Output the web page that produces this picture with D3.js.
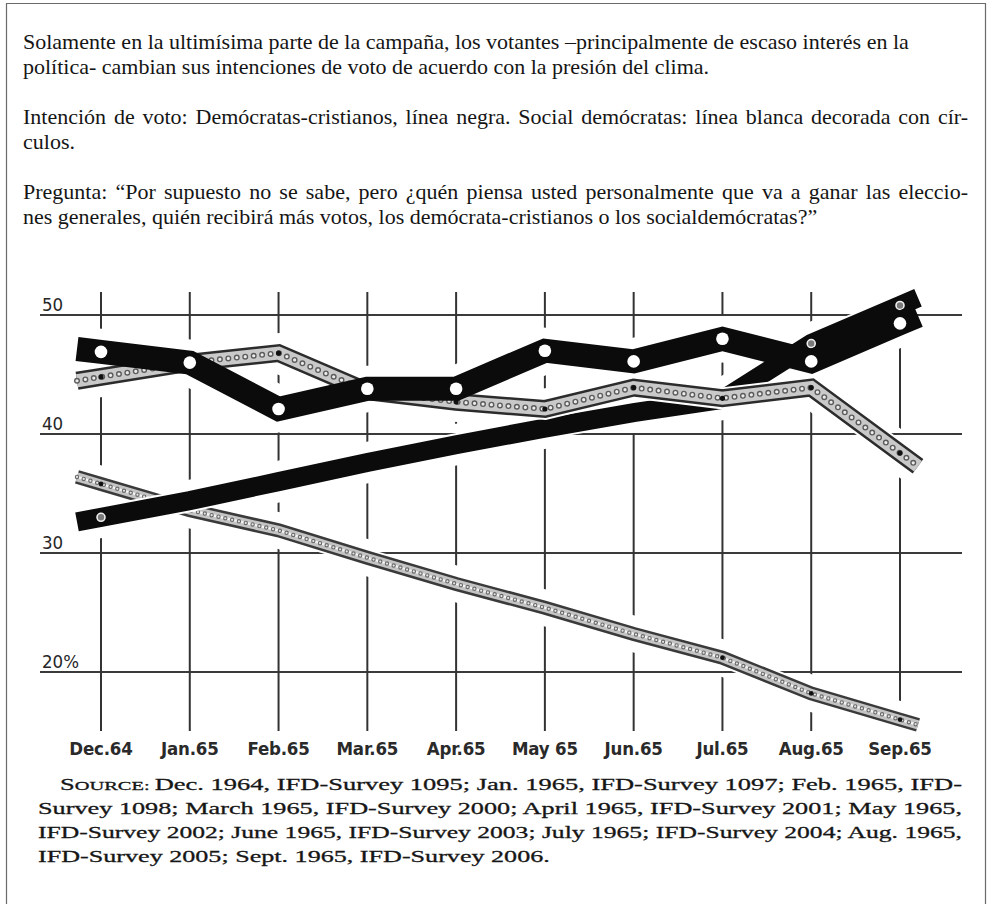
<!DOCTYPE html>
<html><head><meta charset="utf-8">
<script src="https://cdn.jsdelivr.net/npm/d3@7/dist/d3.min.js"></script>
<style>body{margin:0;background:#fff}svg{display:block}</style>
</head><body>
<svg id="c" width="995" height="904"></svg>
<script>
// ---------- data ----------
const months = ["Dec.64","Jan.65","Feb.65","Mar.65","Apr.65","May 65","Jun.65","Jul.65","Aug.65","Sep.65"];
const cduIntention = [46.9,46.0,42.1,43.8,43.8,47.0,46.1,48.0,46.1,49.3];
const spdIntention = [44.8,46.0,46.8,43.6,42.7,42.1,43.9,43.0,43.9,38.4];
const cduExpected  = [33.0,34.4,36.0,37.6,39.1,40.5,41.8,42.9,47.6,50.8];
const spdExpected  = [35.8,33.6,31.9,29.6,27.4,25.4,23.2,21.2,18.2,16.0];
const yTicks = [50,40,30,20];
const yTickLabels = ["50","40","30","20%"];
const introParagraphs = [
  ["Solamente en la ultimísima parte de la campaña, los votantes –principalmente de escaso interés en la",
   "política- cambian sus intenciones de voto de acuerdo con la presión del clima."],
  ["Intención de voto: Demócratas-cristianos, línea negra. Social demócratas: línea blanca decorada con cír-",
   "culos."],
  ["Pregunta: “Por supuesto no se sabe, pero ¿quén piensa usted personalmente que va a ganar las eleccio-",
   "nes generales, quién recibirá más votos, los demócrata-cristianos o los socialdemócratas?”"]
];
const justifiedIntro = [[false,false],[true,false],[true,false]];
const sourceLines = [
  "Dec. 1964, IFD-Survey 1095; Jan. 1965, IFD-Survey 1097; Feb. 1965, IFD-",
  "Survey 1098; March 1965, IFD-Survey 2000; April 1965, IFD-Survey 2001; May 1965,",
  "IFD-Survey 2002; June 1965, IFD-Survey 2003; July 1965; IFD-Survey 2004; Aug. 1965,",
  "IFD-Survey 2005; Sept. 1965, IFD-Survey 2006."
];

// ---------- setup ----------
const svg = d3.select("#c");
const W = 995, H = 904;

// frame (no bottom edge)
svg.append("path").attr("d", `M6.5,${H} V3.5 H985.5 V${H}`)
  .attr("fill","none").attr("stroke","#6a6a6a").attr("stroke-width",1.2);

// intro text
const introX = 23, introRight = 968;
let by = 49;
introParagraphs.forEach((para, pi) => {
  para.forEach((line, li) => {
    const t = svg.append("text").attr("x", introX).attr("y", by)
      .attr("font-family", "'Liberation Serif','Times New Roman',serif")
      .attr("font-size", 22).attr("fill", "#151515").text(line);
    if (justifiedIntro[pi][li]) {
      const L = t.node().getComputedTextLength();
      const n = (line.match(/ /g) || []).length;
      const extra = ((introRight - introX) - L) / n;
      if (extra > 0) t.attr("word-spacing", extra);
      else t.attr("textLength", introRight - introX).attr("lengthAdjust", "spacingAndGlyphs");
    }
    by += 25;
  });
  by += 25;
});

// ---------- chart ----------
const x = d3.scalePoint().domain(months).range([101, 900]);
const y = d3.scaleLinear().domain([20, 50]).range([672, 315]);

const defs = svg.append("defs");

function points(vals) {
  const p = vals.map((v, i) => [x(months[i]), y(v)]);
  const n = p.length;
  const s0 = (p[1][1] - p[0][1]) / (p[1][0] - p[0][0]);
  const s1 = (p[n-1][1] - p[n-2][1]) / (p[n-1][0] - p[n-2][0]);
  const extL = 24, extR = 18;
  return [[p[0][0] - extL, p[0][1] - extL * s0], ...p, [p[n-1][0] + extR, p[n-1][1] + extR * s1]];
}
const line = d3.line();

const series = [
  {id:"spdE", vals: spdExpected, w: 14},
  {id:"cduE", vals: cduExpected, w: 19},
  {id:"spdI", vals: spdIntention, w: 18},
  {id:"cduI", vals: cduIntention, w: 24}
];
series.forEach(s => s.d = line(points(s.vals)));

// mask for vertical grid lines (broken where the curves pass)
const mask = defs.append("mask").attr("id","vmask").attr("maskUnits","userSpaceOnUse")
  .attr("x",0).attr("y",0).attr("width",W).attr("height",H);
mask.append("rect").attr("width",W).attr("height",H).attr("fill","white");
series.forEach(s => mask.append("path").attr("d", s.d).attr("fill","none")
  .attr("stroke","black").attr("stroke-width", s.w + 22));

// horizontal grid
const grid = svg.append("g");
grid.selectAll("line.h").data(yTicks).join("line")
  .attr("x1", 40).attr("x2", 962)
  .attr("y1", d => y(d)).attr("y2", d => y(d))
  .attr("stroke", "#3a3a3a").attr("stroke-width", 1.8);

// vertical grid
grid.append("g").attr("mask","url(#vmask)")
  .selectAll("line").data(months).join("line")
  .attr("x1", d => x(d)).attr("x2", d => x(d))
  .attr("y1", y(50) - 23).attr("y2", y(20) + 59)
  .attr("stroke", "#333").attr("stroke-width", 2);

// y labels
svg.append("g").selectAll("text").data(yTicks).join("text")
  .attr("x", 42).attr("y", d => y(d) - 4)
  .attr("font-family", "'DejaVu Sans Condensed','DejaVu Sans',sans-serif")
  .attr("font-size", 18.5).attr("fill", "#262626")
  .text((d, i) => yTickLabels[i]);

// x labels
svg.append("g").selectAll("text").data(months).join("text")
  .attr("x", d => x(d)).attr("y", y(20) + 83).attr("text-anchor","middle")
  .attr("font-family", "'DejaVu Sans Condensed','DejaVu Sans',sans-serif")
  .attr("font-weight","bold").attr("font-size", 18.5).attr("fill", "#2a2a2a")
  .attr("letter-spacing", -0.2)
  .text(d => d);

// ---------- series drawing ----------
const plot = svg.append("g");
function halo(s) {
  plot.append("path").attr("d", s.d).attr("fill","none").attr("stroke","#fff")
    .attr("stroke-width", s.w + 4).attr("stroke-linejoin","miter");
}
// SPD expected (descending decorated line)
let s = series[0];
halo(s);
plot.append("path").attr("d", s.d).attr("fill","none").attr("stroke","#3a3a3a").attr("stroke-width", s.w);
plot.append("path").attr("d", s.d).attr("fill","none").attr("stroke","#c4c4c4").attr("stroke-width", s.w - 5);
plot.append("path").attr("d", s.d).attr("fill","none").attr("stroke","#f4f4f4").attr("stroke-width", 2.2);
plot.append("path").attr("d", s.d).attr("fill","none").attr("stroke","#6a6a6a").attr("stroke-width", 4.5)
  .attr("stroke-linecap","round").attr("stroke-dasharray","0 7");
plot.append("path").attr("d", s.d).attr("fill","none").attr("stroke","#e6e6e6").attr("stroke-width", 2.2)
  .attr("stroke-linecap","round").attr("stroke-dasharray","0 7");
plot.append("g").selectAll("circle").data([0,7,8,9]).join("circle")
  .attr("cx", i => x(months[i])).attr("cy", i => y(spdExpected[i])).attr("r", 2.4).attr("fill","#111");

// CDU expected (rising black)
s = series[1];
halo(s);
plot.append("path").attr("d", s.d).attr("fill","none").attr("stroke","#0b0b0b")
  .attr("stroke-width", s.w).attr("stroke-linejoin","miter");
plot.append("g").selectAll("circle").data([0,8,9]).join("circle")
  .attr("cx", i => x(months[i])).attr("cy", i => y(cduExpected[i])).attr("r", 4)
  .attr("fill","#7a7a7a").attr("stroke","#f0f0f0").attr("stroke-width",1.6);

// SPD intention (decorated with circles)
s = series[2];
halo(s);
plot.append("path").attr("d", s.d).attr("fill","none").attr("stroke","#2c2c2c")
  .attr("stroke-width", s.w).attr("stroke-linejoin","miter");
plot.append("path").attr("d", s.d).attr("fill","none").attr("stroke","#c9c9c9")
  .attr("stroke-width", s.w - 5).attr("stroke-linejoin","miter");
plot.append("path").attr("d", s.d).attr("fill","none").attr("stroke","#5c5c5c").attr("stroke-width", 6)
  .attr("stroke-linecap","round").attr("stroke-dasharray","0 8.5");
plot.append("path").attr("d", s.d).attr("fill","none").attr("stroke","#ececec").attr("stroke-width", 3.2)
  .attr("stroke-linecap","round").attr("stroke-dasharray","0 8.5");
plot.append("g").selectAll("circle").data(spdIntention).join("circle")
  .attr("cx", (d, i) => x(months[i])).attr("cy", d => y(d)).attr("r", 2.6).attr("fill","#111");

// CDU intention (thick black with white circles)
s = series[3];
plot.append("path").attr("d", s.d).attr("fill","none").attr("stroke","#0b0b0b")
  .attr("stroke-width", s.w).attr("stroke-linejoin","miter").attr("stroke-miterlimit", 6);
plot.append("g").selectAll("circle").data(cduIntention).join("circle")
  .attr("cx", (d, i) => x(months[i])).attr("cy", d => y(d)).attr("r", 6.3).attr("fill","#fff");

// ---------- source (scanned caption, horizontally stretched) ----------
const srcLeft = 38, srcRight = 962, srcIndent = 60;
const srcFont = "'Liberation Serif','Times New Roman',serif";
const factors = [];
const srcTexts = sourceLines.map((ln, i) => {
  const t = svg.append("text").attr("x", i === 0 ? srcIndent : srcLeft).attr("y", 790 + i * 24)
    .attr("font-family", srcFont).attr("font-size", 17.5).attr("fill", "#161616")
    .attr("stroke", "#161616").attr("stroke-width", 0.3);
  if (i === 0) {
    t.append("tspan").text("S");
    t.append("tspan").attr("font-size", 13.5).text("OURCE: ");
  }
  t.append("tspan").text(ln);
  return t;
});
srcTexts.forEach((t, i) => {
  const L = t.node().getComputedTextLength();
  if (i < srcTexts.length - 1) {
    const start = i === 0 ? srcIndent : srcLeft;
    factors.push((srcRight - start) / L);
    t.attr("textLength", srcRight - start).attr("lengthAdjust", "spacingAndGlyphs");
  } else {
    t.attr("textLength", L * d3.mean(factors)).attr("lengthAdjust", "spacingAndGlyphs");
  }
});
</script>
</body></html>
